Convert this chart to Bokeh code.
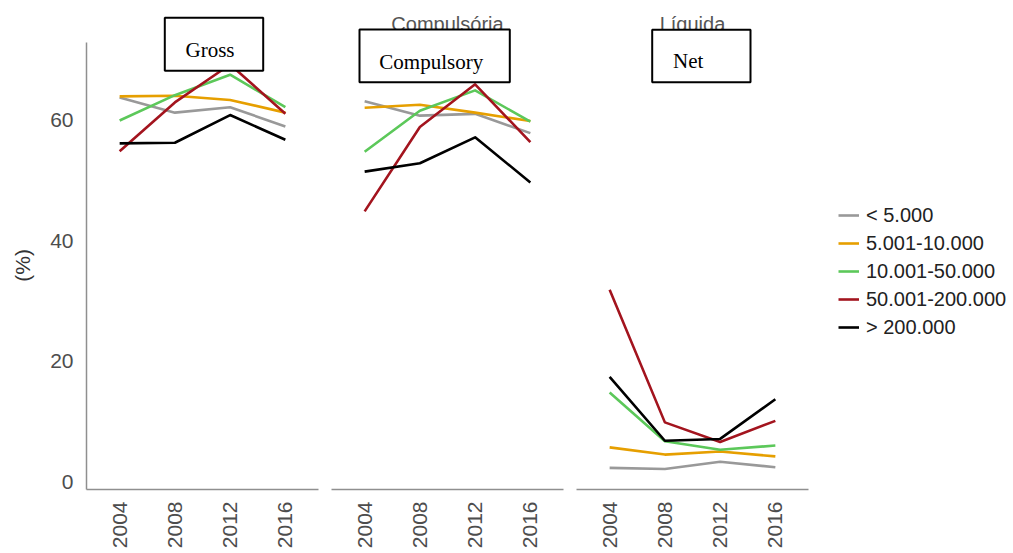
import math
from bokeh.plotting import figure
from bokeh.models import Range1d, FixedTicker, Label, BoxAnnotation, Legend, LegendItem
from bokeh.layouts import row
from bokeh.embed import file_html
from bokeh.resources import INLINE

years = [2004, 2008, 2012, 2016]
groups = ["< 5.000", "5.001-10.000", "10.001-50.000", "50.001-200.000", "> 200.000"]
colors = ["#999999", "#E69F00", "#5CC85A", "#A3141E", "#000000"]

panel_titles = ["Bruta", "Compulsória", "Líquida"]
panel_labels = ["Gross", "Compulsory", "Net"]

gross_lt5 = [63.8, 61.3, 62.2, 59.0]
gross_5_10 = [64.0, 64.1, 63.4, 61.3]
gross_10_50 = [60.0, 64.2, 67.6, 62.2]
gross_50_200 = [54.9, 63.0, 69.3, 61.1]
gross_gt200 = [56.2, 56.3, 60.9, 56.8]

comp_lt5 = [63.2, 60.8, 61.1, 57.9]
comp_5_10 = [62.1, 62.6, 61.3, 59.9]
comp_10_50 = [54.8, 61.6, 65.0, 59.8]
comp_50_200 = [44.9, 58.9, 66.0, 56.4]
comp_gt200 = [51.5, 52.9, 57.2, 49.7]

net_lt5 = [2.3, 2.1, 3.3, 2.4]
net_5_10 = [5.7, 4.5, 5.0, 4.2]
net_10_50 = [14.8, 6.7, 5.3, 6.0]
net_50_200 = [31.9, 9.85, 6.6, 10.1]
net_gt200 = [17.4, 6.8, 7.1, 13.7]

y_ticks = [0, 20, 40, 60]

panels = [
    [gross_lt5, gross_5_10, gross_10_50, gross_50_200, gross_gt200],
    [comp_lt5, comp_5_10, comp_10_50, comp_50_200, comp_gt200],
    [net_lt5, net_5_10, net_10_50, net_50_200, net_gt200],
]

SANS = "Liberation Sans"
SERIF = "Liberation Serif"
AXIS_COLOR = "#8f8f8f"
TICK_COLOR = "#4d4d4d"

X0, X1 = 2001.6, 2018.4          # panel x extent (years)
Y0, Y1 = -1.3, 72.95             # panel y extent (%)
PX_PER_YEAR = 232 / (X1 - X0)
PX_PER_PCT = 447 / (Y1 - Y0)
FRAME_H = 489
y_top = Y0 + FRAME_H / PX_PER_PCT   # frame extends to top of canvas
y_range = Range1d(Y0, y_top)

# (width, min_border_left, min_border_right, show_y)
specs = [(324, 86, 6, True), (246, 7, 6, False), (443, 6, 0, False)]
# overlay boxes in frame screen coords (left, right, top, bottom), text pos (x, y)
boxes = [(78.3, 176.7, 471.7, 418.7), (28.0, 178.3, 460.0, 407.3), (75.7, 174.0, 459.7, 407.3)]
texts = [(99.0, 439.7), (47.8, 428.0), (96.5, 428.3)]

figs = []
legend_items = []
for i, (w, bl, br, show_y) in enumerate(specs):
    frame_w = w - bl - br
    x_end = X0 + frame_w / PX_PER_YEAR
    p = figure(width=w, height=553, x_range=Range1d(X0, x_end), y_range=y_range,
               output_backend="svg", toolbar_location=None,
               min_border_left=bl, min_border_right=br, min_border_top=0, min_border_bottom=553 - FRAME_H,
               y_axis_location="left" if show_y else None)
    p.outline_line_color = None
    p.xgrid.visible = False
    p.ygrid.visible = False
    p.background_fill_color = "white"
    p.border_fill_color = "white"

    xa = p.xaxis[0]
    xa.ticker = FixedTicker(ticks=years)
    xa.bounds = (X0, X1)
    xa.major_label_orientation = math.pi / 2
    xa.major_tick_line_color = None
    xa.minor_tick_line_color = None
    xa.major_tick_out = 0
    xa.major_tick_in = 0
    xa.axis_line_color = AXIS_COLOR
    xa.axis_line_width = 1.5
    xa.major_label_text_font = SANS
    xa.major_label_text_font_size = "21px"
    xa.major_label_text_color = TICK_COLOR
    xa.major_label_standoff = 12

    if show_y:
        ya = p.yaxis[0]
        ya.ticker = FixedTicker(ticks=y_ticks)
        ya.bounds = (Y0, Y1)
        ya.major_tick_line_color = None
        ya.minor_tick_line_color = None
        ya.major_tick_out = 0
        ya.major_tick_in = 0
        ya.axis_line_color = AXIS_COLOR
        ya.axis_line_width = 1.5
        ya.major_label_text_font = SANS
        ya.major_label_text_font_size = "21px"
        ya.major_label_text_color = TICK_COLOR
        ya.major_label_standoff = 13
        # non-breaking spaces shift the title down to the centre of the drawn axis
        ya.axis_label = "(%)" + "\u00a0" * 7
        ya.axis_label_text_font = SANS
        ya.axis_label_text_font_size = "21px"
        ya.axis_label_text_font_style = "normal"
        ya.axis_label_text_color = "#333333"
        ya.axis_label_standoff = 13

    for vals, col, grp in zip(panels[i], colors, groups):
        r = p.line(years, vals, line_color=col, line_width=2.6, line_join="round")
        if i == 2:
            legend_items.append(LegendItem(label=grp, renderers=[r]))

    panel_center = (X1 - X0) / 2 * PX_PER_YEAR
    p.add_layout(Label(x=panel_center, y=466, x_units="screen", y_units="screen",
                       text=panel_titles[i], text_font=SANS, text_font_size="20px",
                       text_color="#555555", text_align="center", text_baseline="alphabetic"))
    l, r_, t, b = boxes[i]
    p.add_layout(BoxAnnotation(left=l, right=r_, top=t, bottom=b,
                               left_units="screen", right_units="screen",
                               top_units="screen", bottom_units="screen",
                               fill_color="white", fill_alpha=1.0,
                               line_color="black", line_width=2, line_alpha=1.0))
    tx, ty = texts[i]
    p.add_layout(Label(x=tx, y=ty, x_units="screen", y_units="screen",
                       text=panel_labels[i], text_font=SERIF, text_font_size="21px",
                       text_color="black", text_align="left", text_baseline="alphabetic"))
    figs.append(p)

legend = Legend(items=legend_items, location=(262, 150.5))
legend.border_line_color = None
legend.background_fill_alpha = 0
legend.padding = 0
legend.margin = 0
legend.spacing = 5
legend.glyph_width = 21
legend.glyph_height = 20
legend.label_height = 20
legend.label_standoff = 7
legend.label_text_font = SANS
legend.label_text_font_size = "20px"
legend.label_text_color = "#222222"
figs[2].add_layout(legend)

layout = row(*figs, spacing=0)
open("out.html", "w").write(file_html(layout, INLINE))
